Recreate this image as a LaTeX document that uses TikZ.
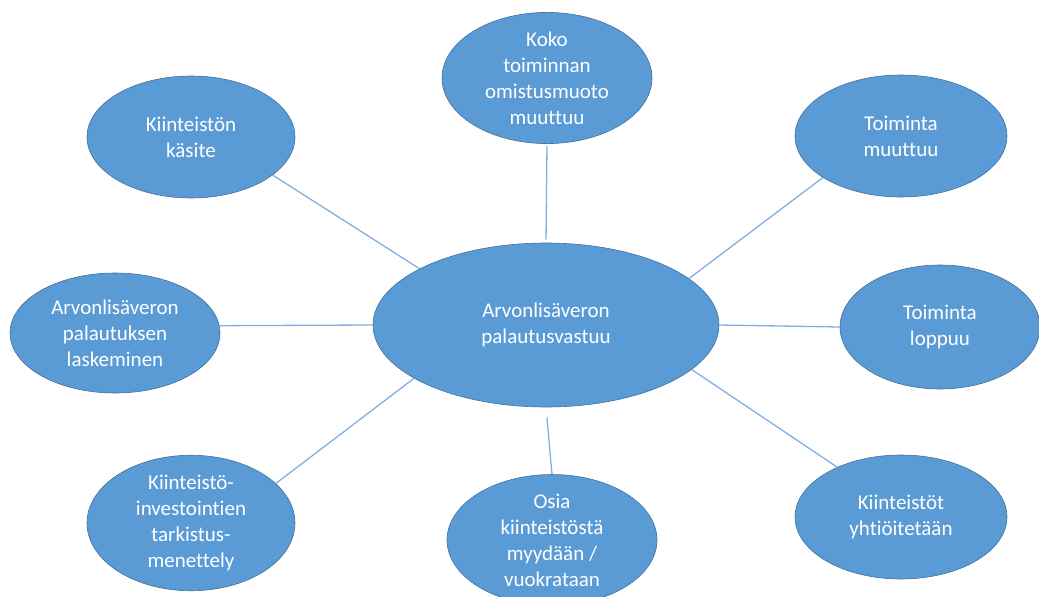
\documentclass[tikz,border=0pt]{standalone}
\usepackage{fontspec}
\setmainfont{Carlito}[Ligatures=NoCommon]
\usetikzlibrary{shapes.geometric}
\definecolor{bubble}{RGB}{91,155,213}
\definecolor{bubbleline}{RGB}{65,113,156}
\definecolor{spoke}{RGB}{130,175,222}
\tikzset{
  bub/.style={ellipse, fill=bubble, draw=bubbleline, line width=0.6pt, inner sep=0pt,
    text=white, align=center, font=\fontsize{21}{26}\selectfont},
  spokeline/.style={draw=spoke, line width=1.3pt}
}
\begin{document}
\begin{tikzpicture}[x=1pt,y=-1pt]
\useasboundingbox (0,0) rectangle (1039,597);
\clip (0,0) rectangle (1039,597);
\node[bub, minimum width=346pt, minimum height=164pt] (c) at (546,325) {Arvonlisäveron\\palautusvastuu};
\node[bub, minimum width=210pt, minimum height=122pt] (koko) at (547,78) {Koko\\toiminnan\\omistusmuoto\\muuttuu};
\node[bub, minimum width=208pt, minimum height=122pt] (kas) at (191,137) {Kiinteistön\\käsite};
\node[bub, minimum width=212pt, minimum height=122pt] (muut) at (901,136) {Toiminta\\muuttuu};
\node[bub, minimum width=200pt, minimum height=124pt] (lop) at (940,327) {Toiminta\\loppuu};
\node[bub, minimum width=210pt, minimum height=120pt] (lask) at (115,333) {Arvonlisäveron\\palautuksen\\laskeminen};
\node[bub, minimum width=208pt, minimum height=124pt] (tark) at (191,523) {Kiinteistö-\\investointien\\tarkistus-\\menettely};
\node[bub, minimum width=210pt, minimum height=126pt] (osia) at (552,540) {Osia\\kiinteistöstä\\myydään /\\vuokrataan};
\node[bub, minimum width=212pt, minimum height=124pt] (yht) at (901,517) {Kiinteistöt\\yhtiöitetään};
\draw[spokeline, shorten <=2pt, shorten >=3pt] (koko.south) -- (c.north);
\draw[spokeline] (kas.-25) -- (c.156);
\draw[spokeline] (muut.208) -- (c.18);
\draw[spokeline] (lop.west) -- (c.east);
\draw[spokeline] (lask.4) -- (c.west);
\draw[spokeline] (tark.25) -- (c.202);
\draw[spokeline, shorten <=10pt] (c.south) -- (osia.north);
\draw[spokeline] (yht.142) -- (c.-17);
\end{tikzpicture}
\end{document}
